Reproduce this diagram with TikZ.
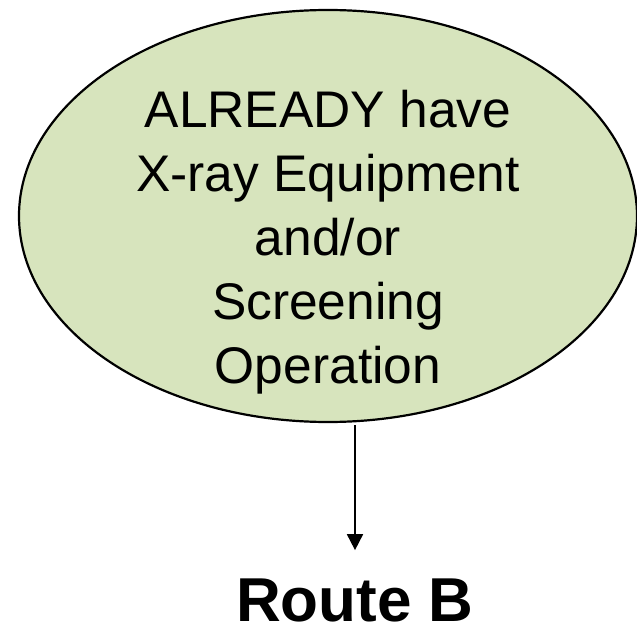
\documentclass[tikz,border=0pt]{standalone}
\usepackage{fontspec}
\setmainfont{Liberation Sans}
\usetikzlibrary{shapes.geometric,arrows.meta}
\definecolor{ovalfill}{HTML}{D7E4BD}
\tikzset{
  oval/.style={ellipse, draw=black, line width=2.2pt, fill=ovalfill, inner sep=0pt},
  ovaltext/.style={align=center, font=\fontsize{51.5}{64}\selectfont, inner sep=0pt, anchor=base},
  routetext/.style={font=\fontsize{62}{72}\selectfont\bfseries, inner sep=0pt, anchor=base},
  link/.style={line width=1.8pt, -{Triangle[width=16pt,length=16pt]}}
}
\begin{document}
\begin{tikzpicture}[x=1pt,y=-1pt]
\useasboundingbox (0,0) rectangle (637,631);
\node[oval, minimum width=618pt, minimum height=412pt] (oval) at (328,216) {};
\node[ovaltext] (txt) at (328,383) {ALREADY have\\X-ray Equipment\\and/or\\Screening\\Operation};
\node[routetext] (route) at (355,621) {Route B};
\coordinate (start) at ([yshift=-2pt]oval.south -| route.north);
\coordinate (finish) at ([yshift=28pt]route.north);
\draw[link] (start) -- (finish);
\end{tikzpicture}
\end{document}
